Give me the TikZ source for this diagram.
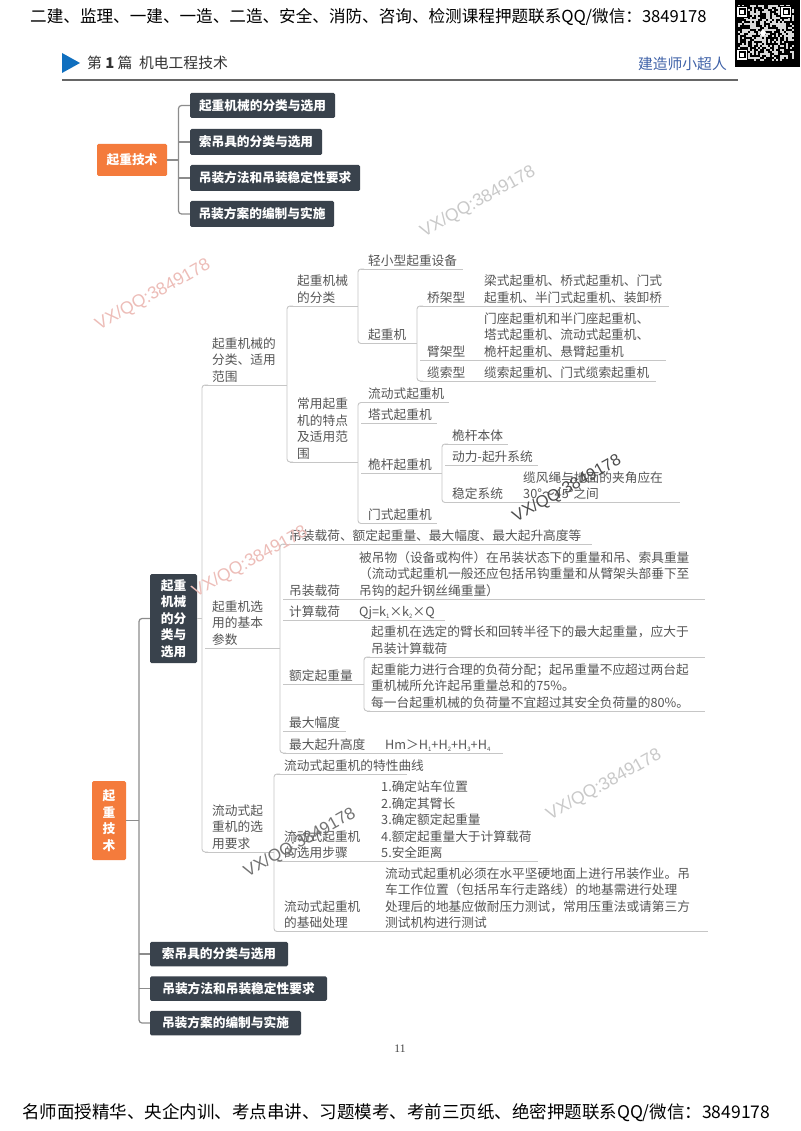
\documentclass[tikz,border=0pt]{standalone}
\usepackage{fontspec}
\setmainfont{Noto Sans CJK SC}
\newfontfamily\wmfont{Liberation Sans}
\newfontfamily\pgfont{Liberation Serif}
\definecolor{lbl}{HTML}{555555}
\definecolor{lineg}{HTML}{C6C6C6}
\definecolor{trunkg}{HTML}{8C8C8C}
\definecolor{darkbox}{HTML}{39424C}
\definecolor{orangebox}{HTML}{F47B3C}
\definecolor{wmgray}{HTML}{C9C9C9}
\definecolor{wmpink}{HTML}{EDBDB8}
\definecolor{tribl}{HTML}{0F6FBF}
\definecolor{authbl}{HTML}{3F62A8}
\newcommand{\zlp}{\char"FF08\relax}
\newcommand{\zrp}{\char"FF09\relax}
\newcommand{\zcm}{\char"FF0C\relax}
\newcommand{\zsc}{\char"FF1B\relax}
\newcommand{\zcn}{\char"FF1A\relax}
\newcommand{\zgt}{\char"FF1E\relax}
\tikzset{
  tpc/.style={inner sep=0pt,align=left,text=lbl,anchor=south west,font=\fontsize{12.7}{16.5}\selectfont},
  rtx/.style={inner sep=0pt,align=left,text=lbl,anchor=south west,font=\fontsize{12.7}{16.5}\selectfont},
  conn/.style={draw=lineg,line width=0.9pt,rounded corners=3pt},
  tconn/.style={draw=trunkg,line width=1.2pt,rounded corners=3pt},
  dbox/.style={fill=darkbox,rounded corners=1.5pt,inner sep=0pt,text=white,align=center,font=\fontsize{12.7}{16.5}\selectfont\bfseries},
  obox/.style={fill=orangebox,rounded corners=1.5pt,inner sep=0pt,text=white,align=center,font=\fontsize{12.7}{16.5}\selectfont\bfseries},
  wm/.style={inner sep=0pt,font=\fontsize{#1}{20}\selectfont\wmfont,rotate=29},
  wm/.default=17.5,
}
\newcommand{\myst}{\rule[-3.5pt]{0pt}{1pt}}
\newcommand{\tp}[6][10pt]{%
  \def\nl{\\\hspace*{#1}}%
  \node[tpc,text width={(#5-#3)*1pt}] (#2) at (#3,#4) {\hspace*{#1}#6\myst};
  \draw[draw=lineg,line width=0.9pt] ([xshift=3pt]#2.south west) -- (#2.south east);}
\newcommand{\rt}[4]{\node[rtx] (#1) at (#2,#3) {#4\myst};}
\newcommand{\trunk}[2]{\draw[conn] ([xshift=6pt]#1.south west) -- (#1.south west) -- (#2.south west) -- ([xshift=6pt]#2.south west);}
\newcommand{\subd}[1]{\raisebox{-.25ex}{\fontsize{6}{6}\selectfont #1}}
\begin{document}
\begin{tikzpicture}[x=1pt,y=-1pt]
\useasboundingbox (0,0) rectangle (800,1131);
\fill[white] (0,0) rectangle (800,1131);
% header and footer
\node[inner sep=0pt,anchor=west,text=black,font=\fontsize{16.6}{18}\selectfont] (hd) at (30,17) {二建、监理、一建、一造、二造、安全、消防、咨询、检测课程押题联系QQ/微信\zcn 3849178};
\node[inner sep=0pt,anchor=west,text=black,font=\fontsize{17.5}{20}\selectfont] (ft) at (22,1113) {名师面授精华、央企内训、考点串讲、习题模考、考前三页纸、绝密押题联系QQ/微信\zcn 3849178};
% QR
\fill[black] (735,0) rectangle (800,67);
\pgfmathsetseed{11}
\foreach \i in {0,...,27}{\foreach \j in {0,...,27}{
  \pgfmathparse{rnd>0.5?1:0}
  \ifnum\pgfmathresult=1
    \fill[white!85!black] ({738+\i*2},{5+\j*2}) rectangle ++(2,2);
  \fi}}
\foreach \a/\b in {737/7,781/7,737/50}{
  \fill[black] (\a-1,\b-1) rectangle ++(12,12);
  \fill[white] (\a,\b) rectangle ++(10,10);
  \fill[black] (\a+1.5,\b+1.5) rectangle ++(7,7);
  \fill[white] (\a+3,\b+3) rectangle ++(4,4);}
\fill[white] (763,33) circle (3);
% title band
\fill[tribl] (62,53) -- (80,63) -- (62,73) -- cycle;
\node[inner sep=0pt,anchor=west,text=black!80,font=\fontsize{14.8}{17}\selectfont] (ttl) at (87,63) {第 \textbf{1} 篇\ \ 机电工程技术};
\node[inner sep=0pt,anchor=east,text=authbl,font=\fontsize{14.8}{17}\selectfont] (auth) at (727,64) {建造师小超人};
\draw[black!60,line width=1.2pt] (62,80) -- (738,80);
% top mini map
\node[obox,minimum width=70pt,minimum height=32pt] (o1) at (132,160) {起重技术};
\node[dbox,minimum width=145pt,minimum height=25pt] (t1) at (262.5,105.5) {起重机械的分类与选用};
\node[dbox,minimum width=132pt,minimum height=26pt] (t2) at (256,142) {索吊具的分类与选用};
\node[dbox,minimum width=170pt,minimum height=26pt] (t3) at (275,178) {吊装方法和吊装稳定性要求};
\node[dbox,minimum width=144pt,minimum height=26pt] (t4) at (262,214) {吊装方案的编制与实施};
\coordinate (tk0) at (178.5,160);
\draw[tconn] (t1.west) -- (t1.west -| tk0) -- (t4.west -| tk0) -- (t4.west);
\draw[tconn] (t2.west) -- (t2.west -| tk0);
\draw[tconn] (t3.west) -- (t3.west -| tk0);
\draw[tconn] (o1.east) -- (tk0);
% main map
\node[obox,minimum width=34pt,minimum height=79pt] (ob) at (109,820.5) {起\\重\\技\\术};
\node[dbox,minimum width=47pt,minimum height=89pt] (mb) at (173.5,618.5) {起重\\机械\\的分\\类与\\选用};
\node[dbox,minimum width=138pt,minimum height=24.5pt] (b2) at (219,954) {索吊具的分类与选用};
\node[dbox,minimum width=177pt,minimum height=24.5pt] (b3) at (238.5,988.5) {吊装方法和吊装稳定性要求};
\node[dbox,minimum width=151pt,minimum height=24.5pt] (b4) at (225.5,1023) {吊装方案的编制与实施};
\coordinate (tk) at (139,820.5);
\draw[tconn] (mb.west) -- (mb.west -| tk) -- (b4.west -| tk) -- (b4.west);
\draw[tconn] (b2.west) -- (b2.west -| tk);
\draw[tconn] (b3.west) -- (b3.west -| tk);
\draw[tconn] (ob.east) -- (tk);
% level 2
\tp{A}{202}{385}{287}{起重机械的\nl 分类、适用\nl 范围}
\tp{B}{202}{648}{280}{起重机选\nl 用的基本\nl 参数}
\tp{C}{202}{852}{274}{流动式起\nl 重机的选\nl 用要求}
\trunk{A}{C}
\draw[conn] (mb.east) -- (mb.east -| A.south west);
% A children
\tp{Aa}{287}{306}{358}{起重机械\nl 的分类}
\tp{Ab}{287}{462}{358}{常用起重\nl 机的特点\nl 及适用范\nl 围}
\trunk{Aa}{Ab}
\tp{Aa1}{358}{269}{462.5}{轻小型起重设备}
\tp{Aa2}{358}{343.5}{417}{起重机}
\trunk{Aa1}{Aa2}
\tp{q1}{417}{306}{669}{桥架型}
\tp{q2}{417}{360}{666}{臂架型}
\tp{q3}{417}{381}{656}{缆索型}
\trunk{q1}{q3}
\rt{q1t}{484}{306}{梁式起重机、桥式起重机、门式\\起重机、半门式起重机、装卸桥}
\rt{q2t}{484}{360}{门座起重机和半门座起重机、\\塔式起重机、流动式起重机、\\桅杆起重机、悬臂起重机}
\rt{q3t}{484}{381}{缆索起重机、门式缆索起重机}
\tp{c1}{358}{402.5}{449}{流动式起重机}
\tp{c2}{358}{423}{437}{塔式起重机}
\tp{c3}{358}{473.5}{442}{桅杆起重机}
\tp{c4}{358}{523.5}{437}{门式起重机}
\trunk{c1}{c4}
\tp{w1}{442}{444}{507.5}{桅杆本体}
\tp{w2}{442}{465}{537.5}{动力-起升系统}
\tp{w3}{442}{502.5}{679.5}{稳定系统}
\trunk{w1}{w3}
\rt{w3t}{523}{502.5}{缆风绳与地面的夹角应在\\30°～45°之间}
% B children
\tp[9pt]{B1}{280}{544}{592}{吊装载荷、额定起重量、最大幅度、最大起升高度等}
\tp[9pt]{B2}{280}{599}{705}{吊装载荷}
\tp[9pt]{B3}{280}{620}{445}{计算载荷}
\tp[9pt]{B4}{280}{684}{364}{额定起重量}
\tp[9pt]{B5}{280}{731.5}{346}{最大幅度}
\tp[9pt]{B6}{280}{753}{503}{最大起升高度}
\trunk{B1}{B6}
\rt{B2t}{359}{599}{被吊物\zlp 设备或构件\zrp 在吊装状态下的重量和吊、索具重量\\\zlp 流动式起重机一般还应包括吊钩重量和从臂架头部垂下至\\吊钩的起升钢丝绳重量\zrp}
\rt{B3t}{359}{620}{Qj=k\subd{1}×k\subd{2}×Q}
\rt{B6t}{385}{753}{Hm\zgt H\subd{1}+H\subd{2}+H\subd{3}+H\subd{4}}
\tp[7pt]{B41}{364}{657}{705}{起重机在选定的臂长和回转半径下的最大起重量\zcm 应大于\nl 吊装计算载荷}
\tp[7pt]{B42}{364}{711}{705}{起重能力进行合理的负荷分配\zsc 起吊重量不应超过两台起\nl 重机械所允许起吊重量总和的75\%。\nl 每一台起重机械的负荷量不宜超过其安全负荷量的80\%。}
\trunk{B41}{B42}
% C children
\tp{C1}{274}{774}{407}{流动式起重机的特性曲线}
\tp{C2}{274}{861.5}{538}{流动式起重机\nl 的选用步骤}
\tp{C3}{274}{931.5}{708}{流动式起重机\nl 的基础处理}
\trunk{C1}{C3}
\rt{C2t}{381}{861.5}{1.确定站车位置\\2.确定其臂长\\3.确定额定起重量\\4.额定起重量大于计算载荷\\5.安全距离}
\rt{C3t}{385}{931.5}{流动式起重机必须在水平坚硬地面上进行吊装作业。吊\\车工作位置\zlp 包括吊车行走路线\zrp 的地基需进行处理\\处理后的地基应做耐压力测试\zcm 常用压重法或请第三方\\测试机构进行测试}
% page number
\node[inner sep=0pt,text=black!75,font=\fontsize{11.5}{12}\selectfont\pgfont] (pg) at (400,1049) {11};
% watermarks
\node[wm,text=wmgray] (wm1) at (478,202) {VX/QQ:3849178};
\node[wm,text=wmpink] (wm2) at (153,295) {VX/QQ:3849178};
\node[wm=16.5,text=black!70] (wm3) at (567,489) {VX/QQ:3849178};
\node[wm,text=wmpink] (wm4) at (250,562) {VX/QQ:3849178};
\node[wm,text=wmgray] (wm5) at (604,785) {VX/QQ:3849178};
\node[wm=17,text=black!55] (wm6) at (300,843) {VX/QQ:3849178};
\end{tikzpicture}
\end{document}
